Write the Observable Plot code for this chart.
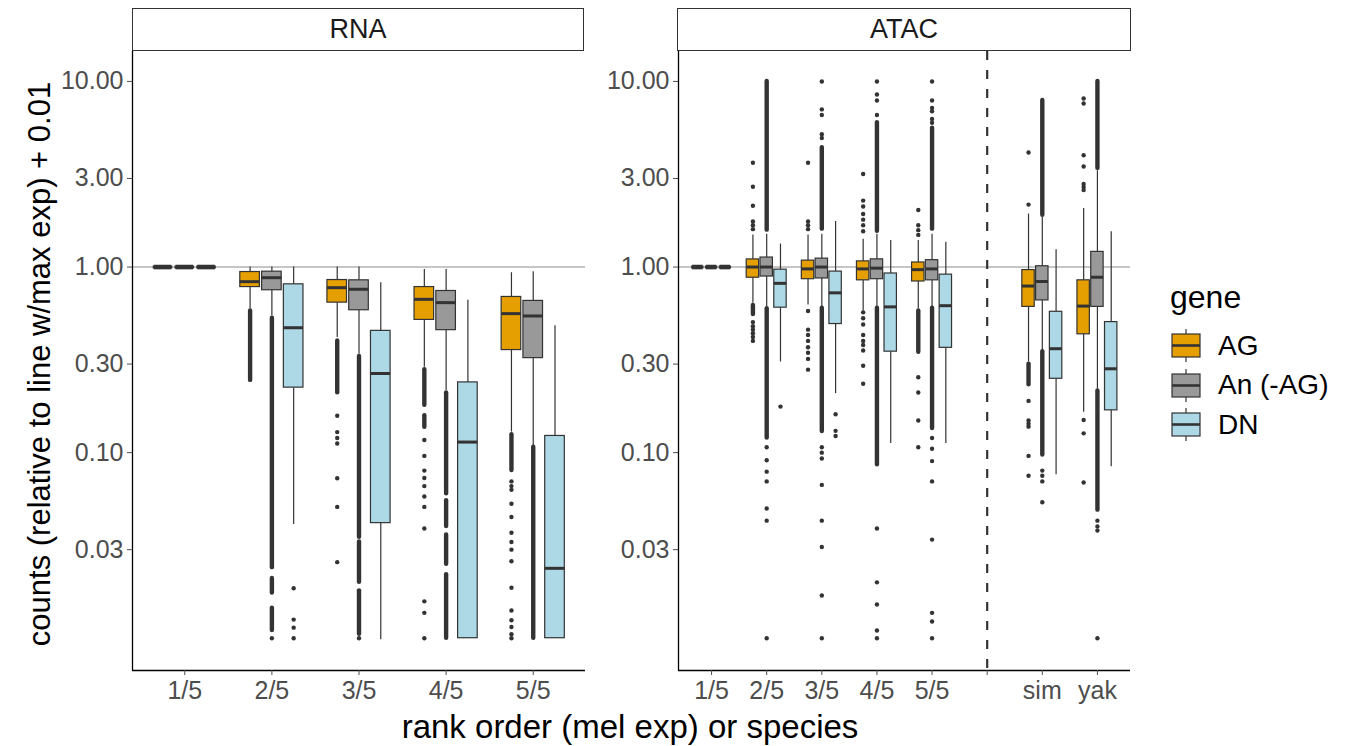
<!DOCTYPE html>
<html>
<head>
<meta charset="utf-8">
<script src="https://cdn.jsdelivr.net/npm/d3@7"></script>
<script src="https://cdn.jsdelivr.net/npm/@observablehq/plot@0.6"></script>
<style>
  html, body { margin: 0; padding: 0; background: #fff; }
  #wrap { position: relative; width: 1347px; height: 746px; font-family: "Liberation Sans", Arial, sans-serif; background: #fff; overflow: hidden; }
  .abs { position: absolute; }
  .strip { box-sizing: border-box; border: 1.5px solid #333; background: #fff; display: flex; align-items: center; justify-content: center; font-size: 27px; color: #1a1a1a; }
  .title { font-size: 32px; color: #000; white-space: nowrap; line-height: 38px; }
  .leg-row { display: flex; align-items: center; height: 39.5px; }
  .leg-row span { font-size: 28px; color: #000; margin-left: 16px; }
</style>
</head>
<body>
<div id="wrap"></div>
<script>
// ---------- data ----------
const genes = ["AG", "An (-AG)", "DN"];
const geneColors = ["#E69F00", "#999999", "#ADD8E6"];
const yTicks = [0.03, 0.1, 0.3, 1, 3, 10];
const yDomain = [0.0067, 14.5];
const refLine = [1];

const rnaCats = ["1/5", "2/5", "3/5", "4/5", "5/5"];
// [whisker low, q1, median, q3, whisker high] per category
const rnaAG = [[1,1,1,1,1],[0.595,0.78,0.834,0.94,1.0],[0.417,0.643,0.774,0.851,1.0],[0.288,0.519,0.67,0.78,0.97],[0.129,0.357,0.561,0.69,0.932]];
const rnaAn = [[1,1,1,1,1],[0.545,0.75,0.876,0.944,1.0],[0.339,0.585,0.759,0.848,1.0],[0.216,0.457,0.643,0.743,0.97],[0.109,0.323,0.545,0.657,0.944]];
const rnaDN = [[1,1,1,1,1],[0.041,0.224,0.471,0.807,1.0],[0.0098,0.0417,0.267,0.453,0.823],[0.01,0.01,0.114,0.239,0.662],[0.01,0.01,0.0238,0.123,0.482]];
// dense runs of outliers [cat, gene, low, high]
const rnaRuns = [
  ["2/5","AG",0.245,0.58],
  ["2/5","An (-AG)",0.024,0.53],["2/5","An (-AG)",0.0175,0.021],["2/5","An (-AG)",0.011,0.0145],
  ["3/5","AG",0.21,0.40],
  ["3/5","An (-AG)",0.035,0.33],["3/5","An (-AG)",0.02,0.033],["3/5","An (-AG)",0.0105,0.018],
  ["4/5","AG",0.18,0.28],["4/5","AG",0.137,0.158],
  ["4/5","An (-AG)",0.06,0.21],["4/5","An (-AG)",0.04,0.055],["4/5","An (-AG)",0.025,0.036],["4/5","An (-AG)",0.01,0.022],
  ["5/5","AG",0.08,0.125],
  ["5/5","An (-AG)",0.01,0.107]
];
// isolated outliers [cat, gene, values]
const rnaDots = [
  ["2/5","An (-AG)",[0.01]],
  ["2/5","DN",[0.0186,0.0126,0.0114,0.01]],
  ["3/5","AG",[0.158,0.129,0.12,0.112,0.0728,0.051,0.0257]],
  ["3/5","An (-AG)",[0.01]],
  ["4/5","AG",[0.117,0.096,0.08,0.073,0.066,0.058,0.051,0.039,0.0158,0.0137,0.01]],
  ["5/5","AG",[0.07,0.066,0.063,0.053,0.045,0.037,0.033,0.03,0.026,0.0187,0.0141,0.0125,0.0115,0.0105,0.01]]
];

const atacCats = ["1/5", "2/5", "3/5", "4/5", "5/5", "", "sim", "yak"];
const atacAG = [[1,1,1,1,1],[0.639,0.876,1.0,1.099,1.49],[0.624,0.86,0.977,1.083,1.49],[0.58,0.848,0.977,1.073,1.41],[0.596,0.836,0.968,1.058,1.39],null,[0.308,0.61,0.79,0.963,1.93],[0.165,0.434,0.616,0.848,2.07]];
const atacAn = [[1,1,1,1,1],[0.61,0.889,1.0,1.125,1.5],[0.61,0.868,1.0,1.11,1.5],[0.6,0.86,0.986,1.1,1.5],[0.6,0.848,0.977,1.089,1.5],null,[0.355,0.661,0.836,1.01,1.85],[0.22,0.61,0.881,1.207,3.3]];
const atacDN = [[1,1,1,1,1],[0.308,0.604,0.817,0.968,1.33],[0.208,0.493,0.726,0.945,1.76],[0.112,0.35,0.61,0.923,1.39],[0.112,0.367,0.619,0.91,1.36],null,[0.076,0.25,0.363,0.574,1.24],[0.084,0.169,0.283,0.505,1.55]];
const atacRuns = [
  ["2/5","AG",0.555,0.62],
  ["2/5","An (-AG)",1.58,10],["2/5","An (-AG)",0.12,0.596],
  ["3/5","An (-AG)",1.6,4.4],["3/5","An (-AG)",0.13,0.6],
  ["4/5","An (-AG)",1.56,6.0],["4/5","An (-AG)",0.086,0.6],
  ["5/5","AG",0.347,0.58],
  ["5/5","An (-AG)",1.6,5.6],["5/5","An (-AG)",0.135,0.6],
  ["sim","AG",0.232,0.30],
  ["sim","An (-AG)",1.9,7.9],["sim","An (-AG)",0.097,0.35],
  ["yak","An (-AG)",3.4,10],["yak","An (-AG)",0.049,0.215]
];
const atacDots = [
  ["2/5","AG",[3.65,2.71,2.14,1.76,1.68,1.6,0.505,0.48,0.46,0.44,0.42,0.40]],
  ["2/5","An (-AG)",[0.107,0.091,0.079,0.07,0.05,0.043,0.01]],
  ["2/5","DN",[0.177]],
  ["3/5","AG",[3.65,1.76,1.68,1.6,0.58,0.46,0.43,0.40,0.37,0.345,0.32,0.28]],
  ["3/5","An (-AG)",[5.2,4.96,7.07,6.6,10,0.107,0.1,0.093,0.067,0.043,0.031,0.017,0.01]],
  ["3/5","DN",[0.161,0.131,0.123]],
  ["4/5","AG",[3.17,2.28,2.12,1.93,1.8,1.68,1.56,0.57,0.53,0.49,0.43,0.40,0.38,0.355,0.294,0.235]],
  ["4/5","An (-AG)",[6.6,8.5,7.9,10,0.039,0.02,0.0152,0.011,0.01]],
  ["5/5","AG",[2.03,1.68,1.58,1.49,0.255,0.211,0.149,0.107]],
  ["5/5","An (-AG)",[6.27,5.99,7.2,6.9,7.9,10,0.12,0.105,0.09,0.07,0.034,0.0137,0.0123,0.01]],
  ["sim","AG",[4.14,2.17,0.19,0.149,0.143,0.138,0.096,0.075]],
  ["sim","An (-AG)",[0.08,0.075,0.07,0.054]],
  ["yak","AG",[8.1,7.6,4.0,3.48,2.8,2.7,2.6,0.15,0.127,0.069]],
  ["yak","An (-AG)",[0.043,0.04,0.038,0.01]]
];

// ---------- build ----------
const DODGE = 0.25, HALF = 0.1125;
function panel(cats, statsByGene, runs, dots, size) {
  const idx = c => cats.indexOf(c) + 1;
  const off = g => (genes.indexOf(g) - 1) * DODGE;
  const boxes = [];
  genes.forEach((g, gi) => statsByGene[gi].forEach((s, i) => {
    if (!s) return;
    boxes.push({cat: cats[i], gene: g, xc: i + 1 + off(g), lo: s[0], q1: s[1], med: s[2], q3: s[3], hi: s[4]});
  }));
  const flat = boxes.filter(b => b.q1 === b.q3);
  const runRows = runs.map(([c, g, lo, hi]) => ({xc: idx(c) + off(g), lo, hi}));
  const dotRows = dots.flatMap(([c, g, vs]) => vs.map(v => ({xc: idx(c) + off(g), v})));
  const xDomain = [0.4, cats.length + 0.6];
  const separators = cats.map((c, i) => c === "" ? i + 1 : null).filter(v => v !== null);
  return Plot.plot({
    width: size.width, height: 712,
    marginLeft: size.ml, marginRight: size.mr, marginTop: 51, marginBottom: 42,
    x: {type: "linear", domain: xDomain},
    y: {type: "log", domain: yDomain},
    color: {domain: genes, range: geneColors},
    style: {fontFamily: '"Liberation Sans", Arial, sans-serif', color: "#4d4d4d", background: "transparent", overflow: "visible"},
    marks: [
      Plot.ruleY(refLine, {stroke: "#b3b3b3", strokeWidth: 1.6}),
      Plot.ruleX(separators, {stroke: "#333", strokeWidth: 2.2, strokeDasharray: "9,10"}),
      Plot.ruleX(boxes, {x: "xc", y1: "q3", y2: "hi", stroke: "#333", strokeWidth: 1.2}),
      Plot.ruleX(boxes, {x: "xc", y1: "lo", y2: "q1", stroke: "#333", strokeWidth: 1.2}),
      Plot.ruleX(runRows, {x: "xc", y1: "lo", y2: "hi", stroke: "#333", strokeWidth: 4.4, strokeLinecap: "round"}),
      Plot.dot(dotRows, {x: "xc", y: "v", r: 2.2, fill: "#333"}),
      Plot.rect(boxes, {x1: d => d.xc - HALF, x2: d => d.xc + HALF, y1: "q1", y2: "q3", fill: "gene", stroke: "#333", strokeWidth: 1.2}),
      Plot.ruleY(boxes, {y: "med", x1: d => d.xc - HALF, x2: d => d.xc + HALF, stroke: "#333", strokeWidth: 3}),
      Plot.ruleY(flat, {y: "med", x1: d => d.xc - HALF, x2: d => d.xc + HALF, insetLeft: 1, insetRight: 1, stroke: "#333", strokeWidth: 4.6}),
      Plot.ruleX([xDomain[0]], {stroke: "#000", strokeWidth: 1.3}),
      Plot.ruleY([yDomain[0]], {stroke: "#000", strokeWidth: 1.3}),
      Plot.axisY({ticks: yTicks, tickFormat: d => d.toFixed(2), tickSize: 5, tickPadding: 4, fontSize: 25, label: null}),
      Plot.axisX({ticks: cats.map((c, i) => i + 1), tickFormat: i => cats[i - 1], tickSize: 5, tickPadding: 6, fontSize: 25, label: null})
    ]
  });
}

const wrap = document.getElementById("wrap");
function place(el, left, top) { el.classList.add("abs"); el.style.left = left + "px"; el.style.top = top + "px"; wrap.appendChild(el); return el; }

place(panel(rnaCats, [rnaAG, rnaAn, rnaDN], rnaRuns, rnaDots, {width: 590, ml: 132, mr: 5}), 0, 0);
place(panel(atacCats, [atacAG, atacAn, atacDN], atacRuns, atacDots, {width: 545, ml: 88, mr: 5}), 590, 0);

function strip(text, left, width) {
  const d = document.createElement("div");
  d.className = "strip"; d.textContent = text;
  d.style.width = width + "px"; d.style.height = "43px";
  place(d, left, 8);
}
strip("RNA", 132, 452);
strip("ATAC", 677, 454);

const yt = document.createElement("div");
yt.className = "title"; yt.textContent = "counts (relative to line w/max exp) + 0.01";
yt.style.fontSize = "31px";
place(yt, 40, 364);
yt.style.transform = "translate(-50%, -50%) rotate(-90deg)";

const xt = document.createElement("div");
xt.className = "title"; xt.textContent = "rank order (mel exp) or species";
xt.style.fontSize = "33px";
place(xt, 630, 727);
xt.style.transform = "translate(-50%, -50%)";

// legend
const leg = document.createElement("div");
const lt = document.createElement("div");
lt.className = "title"; lt.textContent = "gene"; lt.style.marginBottom = "10px";
leg.appendChild(lt);
genes.forEach((g, i) => {
  const row = document.createElement("div"); row.className = "leg-row";
  const svg = d3.create("svg").attr("width", 32).attr("height", 39);
  svg.append("line").attr("x1", 16).attr("x2", 16).attr("y1", 3).attr("y2", 36).attr("stroke", "#333").attr("stroke-width", 1.2);
  svg.append("rect").attr("x", 2).attr("y", 8).attr("width", 28).attr("height", 23).attr("fill", geneColors[i]).attr("stroke", "#333").attr("stroke-width", 1.2);
  svg.append("line").attr("x1", 2).attr("x2", 30).attr("y1", 19.5).attr("y2", 19.5).attr("stroke", "#333").attr("stroke-width", 2.6);
  row.appendChild(svg.node());
  const sp = document.createElement("span"); sp.textContent = g; row.appendChild(sp);
  leg.appendChild(row);
});
place(leg, 1170, 278);
</script>
</body>
</html>
